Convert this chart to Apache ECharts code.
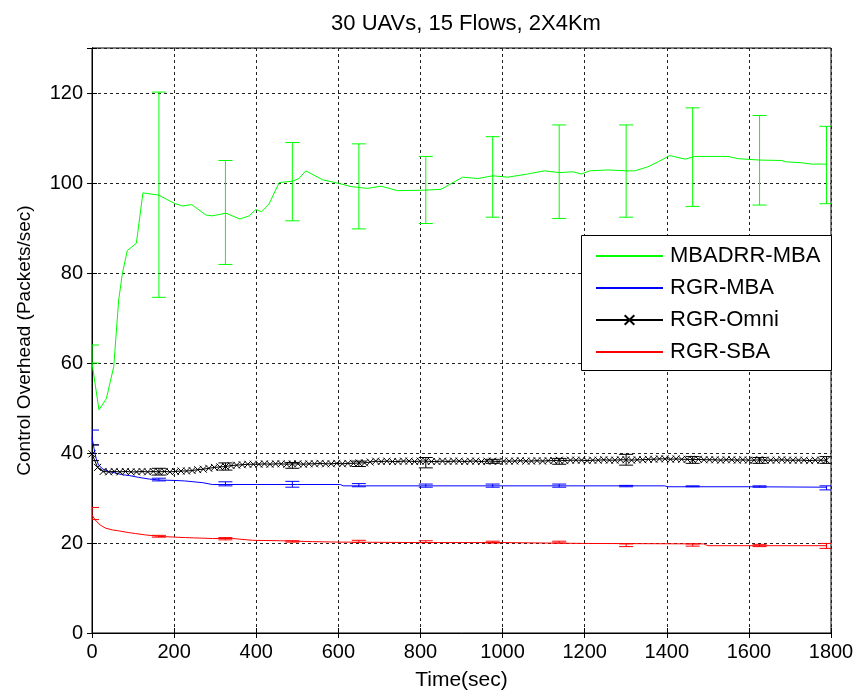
<!DOCTYPE html>
<html>
<head>
<meta charset="utf-8">
<script src="https://cdn.jsdelivr.net/npm/echarts@6/dist/echarts.min.js"></script>
<style>
  html, body { margin: 0; padding: 0; background: #fff; }
  #chart { width: 859px; height: 696px; }
</style>
</head>
<body>
<div id="chart"></div>
<script>
// ---- Series data (time in seconds, overhead in packets/sec) ----
const seriesNames = ['MBADRR-MBA', 'RGR-MBA', 'RGR-Omni', 'RGR-SBA'];

const mbadrrMba = [
  [0, 60], [17, 49.6], [35, 52.1], [53, 59.2], [65, 74], [74, 79.9], [86, 85],
  [108, 86.6], [124, 97.8], [163, 97.3], [200, 95.5], [220, 94.9], [243, 95.2],
  [277, 92.9], [293, 92.7], [326, 93.3], [360, 92], [383, 92.7], [399, 94.1],
  [413, 93.6], [431, 95.3], [456, 100.1], [488, 100.4], [504, 101], [521, 102.7],
  [562, 100.7], [602, 99.9], [631, 99.2], [671, 98.8], [704, 99.3], [744, 98.3],
  [809, 98.4], [850, 98.6], [903, 101.3], [940, 101], [976, 101.6], [1013, 101.3],
  [1061, 102], [1102, 102.7], [1139, 102.3], [1171, 102.5], [1192, 102], [1212, 102.7],
  [1257, 102.9], [1301, 102.7], [1322, 102.7], [1354, 103.6], [1379, 104.7],
  [1407, 106.1], [1445, 105.3], [1468, 105.9], [1549, 105.9], [1574, 105.4],
  [1626, 105.1], [1679, 105], [1691, 104.7], [1728, 104.5], [1753, 104.2], [1789, 104.2]
];

const rgrMba = [
  [0, 43.4], [5, 41], [10, 38.8], [16, 37.3], [27, 36.4], [40, 35.9], [55, 35.6],
  [72, 35.2], [90, 35], [113, 34.6], [140, 34.2], [165, 34.0], [200, 33.9],
  [225, 33.8], [270, 33.4], [293, 33.0], [400, 33.0], [500, 33.0], [605, 33.0],
  [612, 32.7], [800, 32.7], [1000, 32.7], [1200, 32.7], [1395, 32.7], [1402, 32.5],
  [1600, 32.5], [1790, 32.4]
];

// RGR-Omni is logged on a fixed sampling period
const omniSamplePeriod = 13.55;
const rgrOmniValues = [
  39.8, 36.8, 35.9, 35.8, 35.9, 35.8, 35.9, 35.8, 35.8, 35.9, 35.8, 35.9, 35.8, 35.9, 35.8, 35.9,
  36.0, 36.0, 36.1, 36.3, 36.4, 36.6, 36.8, 36.9, 37.0, 37.2, 37.3, 37.4, 37.5, 37.5, 37.5, 37.6,
  37.5, 37.6, 37.6, 37.5, 37.6, 37.6, 37.5, 37.6, 37.6, 37.7, 37.6, 37.6, 37.7, 37.6, 37.7, 37.7,
  37.8, 37.8, 38.0, 38.2, 38.1, 38.2, 38.1, 38.1, 38.2, 38.2, 38.1, 38.2, 38.2, 38.1, 38.1, 38.2,
  38.1, 38.2, 38.2, 38.1, 38.2, 38.2, 38.1, 38.2, 38.2, 38.1, 38.2, 38.2, 38.2, 38.3, 38.2, 38.2,
  38.3, 38.2, 38.3, 38.3, 38.4, 38.3, 38.4, 38.4, 38.4, 38.3, 38.4, 38.4, 38.5, 38.4, 38.4, 38.5,
  38.5, 38.4, 38.5, 38.5, 38.6, 38.6, 38.7, 38.7, 38.6, 38.7, 38.6, 38.6, 38.5, 38.6, 38.5, 38.5,
  38.5, 38.4, 38.5, 38.5, 38.4, 38.5, 38.4, 38.4, 38.5, 38.4, 38.4, 38.4, 38.5, 38.4, 38.4, 38.4,
  38.4, 38.3, 38.4, 38.4, 38.4
];

const rgrSba = [
  [0, 26.2], [8, 25.1], [20, 24], [33, 23.3], [50, 22.9], [65, 22.7], [90, 22.3],
  [106, 22.1], [130, 21.8], [160, 21.5], [179, 21.4], [228, 21.2], [293, 21.0],
  [342, 21.0], [391, 20.6], [460, 20.5], [537, 20.3], [602, 20.2], [800, 20.1],
  [1000, 20.1], [1200, 19.9], [1490, 19.8], [1500, 19.4], [1790, 19.4]
];

// ---- Error bars (confidence ranges) ----
const errTimes = [0, 163, 325, 488, 650, 813, 976, 1138, 1301, 1463, 1626, 1789];
const mbadrrLow  = [60, 74.6, 81.9, 91.6, 89.8, 91, 92.4, 92.1, 92.4, 94.8, 95.1, 95.4];
const mbadrrHigh = [64, 120.2, 105, 109, 108.7, 105.9, 110.3, 112.9, 112.9, 116.7, 115, 112.6];
const rgrMbaLow  = [41.8, 33.8, 32.7, 32.4, 32.5, 32.4, 32.4, 32.4, 32.5, 32.5, 32.4, 31.8];
const rgrMbaHigh = [45.1, 34.4, 33.6, 33.7, 33.2, 33.1, 33.1, 33.1, 32.8, 32.7, 32.7, 32.7];
const rgrOmniLow  = [38.3, 35.1, 36.2, 36.6, 37.0, 36.7, 37.7, 37.5, 37.3, 37.7, 37.7, 37.7];
const rgrOmniHigh = [41.8, 36.6, 37.8, 37.9, 38.2, 39.0, 38.6, 38.8, 39.7, 39.2, 39.0, 39.2];
const rgrSbaLow  = [25.2, 21.3, 20.7, 20.2, 20.1, 20.1, 20.0, 20.0, 19.2, 19.3, 19.2, 18.8];
const rgrSbaHigh = [27.9, 21.7, 21.2, 20.5, 20.6, 20.5, 20.4, 20.4, 19.8, 19.8, 19.7, 19.9];

// ---- Axis setup ----
const xTicks = [0, 200, 400, 600, 800, 1000, 1200, 1400, 1600, 1800];
const yTicks = [0, 20, 40, 60, 80, 100, 120];

const COLORS = { green: '#00ff00', blue: '#0000ff', black: '#000000', red: '#ff0000' };
const FONT = 'Liberation Sans, Arial, sans-serif';
const CROSS = 'path://M0,0 L10,10 M10,0 L0,10';

function errorBars(name, color, lows, highs) {
  return {
    type: 'custom',
    name: name,
    clip: true,
    z: 3,
    data: errTimes.map((t, i) => [t, lows[i], highs[i]]),
    encode: { x: 0, y: [1, 2] },
    renderItem: function (params, api) {
      const x = api.value(0);
      const lo = api.coord([x, api.value(1)]);
      const hi = api.coord([x, api.value(2)]);
      const hw = 7;
      const style = { stroke: color, lineWidth: 1, fill: null };
      return {
        type: 'group',
        children: [
          { type: 'line', shape: { x1: lo[0], y1: lo[1], x2: hi[0], y2: hi[1] }, style: style },
          { type: 'line', shape: { x1: lo[0] - hw, y1: lo[1], x2: lo[0] + hw, y2: lo[1] }, style: style },
          { type: 'line', shape: { x1: hi[0] - hw, y1: hi[1], x2: hi[0] + hw, y2: hi[1] }, style: style }
        ]
      };
    }
  };
}

const chart = echarts.init(document.getElementById('chart'), null, { renderer: 'canvas' });

const gridLine = { show: true, lineStyle: { color: '#222', type: [3, 3], width: 1 } };
const hiddenSymbol = { opacity: 0 };

chart.setOption({
  animation: false,
  backgroundColor: '#ffffff',
  title: {
    text: '30 UAVs, 15 Flows, 2X4Km',
    left: 461,
    textAlign: 'center',
    top: 8,
    textStyle: { fontFamily: FONT, fontSize: 22, fontWeight: 'normal', color: '#000' }
  },
  grid: { left: 92, right: 28, top: 48, bottom: 63, show: true, borderColor: '#000', borderWidth: 1 },
  xAxis: [{
    type: 'value', min: 0, max: 1800, interval: 200,
    name: 'Time(sec)', nameLocation: 'middle', nameGap: 37,
    nameTextStyle: { fontFamily: FONT, fontSize: 21, color: '#000' },
    axisLine: { show: true, lineStyle: { color: '#000' } },
    axisTick: { show: true, inside: true, length: 5, lineStyle: { color: '#000' } },
    axisLabel: { fontFamily: FONT, fontSize: 20, color: '#000', margin: 9,
      formatter: v => (xTicks.indexOf(v) >= 0 ? String(v) : '') },
    splitLine: gridLine
  }, {
    type: 'value', min: 0, max: 1800, interval: 200, position: 'top',
    axisLine: { show: true, lineStyle: { color: '#000' } },
    axisTick: { show: true, inside: true, length: 5, lineStyle: { color: '#000' } },
    axisLabel: { show: false }, splitLine: { show: false }
  }],
  yAxis: [{
    type: 'value', min: 0, max: 130, interval: 20,
    name: 'Control Overhead (Packets/sec)', nameLocation: 'middle', nameGap: 58,
    nameTextStyle: { fontFamily: FONT, fontSize: 19, color: '#000' },
    axisLine: { show: true, lineStyle: { color: '#000' } },
    axisTick: { show: true, inside: true, length: 5, lineStyle: { color: '#000' } },
    axisLabel: { fontFamily: FONT, fontSize: 20, color: '#000', margin: 9,
      formatter: v => (yTicks.indexOf(v) >= 0 ? String(v) : '') },
    splitLine: gridLine
  }, {
    type: 'value', min: 0, max: 130, interval: 20, position: 'right',
    axisLine: { show: true, lineStyle: { color: '#000' } },
    axisTick: { show: true, inside: true, length: 5, lineStyle: { color: '#000' } },
    axisLabel: { show: false }, splitLine: { show: false }
  }],
  legend: {
    data: [
      { name: seriesNames[0], itemStyle: hiddenSymbol },
      { name: seriesNames[1], itemStyle: hiddenSymbol },
      { name: seriesNames[2] },
      { name: seriesNames[3], itemStyle: hiddenSymbol }
    ],
    orient: 'vertical',
    left: 595, top: 245,
    itemWidth: 67, itemHeight: 12, itemGap: 10,
    padding: 0,
    z: 6,
    textStyle: { fontFamily: FONT, fontSize: 22, color: '#000', padding: [0, 0, 0, 2] },
    selectedMode: false
  },
  graphic: [{
    type: 'rect', left: 581, top: 235, z: 5,
    shape: { width: 250, height: 135 },
    style: { fill: '#fff', stroke: '#000', lineWidth: 1 }
  }],
  series: [
    {
      name: seriesNames[0], type: 'line', data: mbadrrMba, symbol: 'none', z: 2,
      lineStyle: { color: COLORS.green, width: 1 }, itemStyle: { color: COLORS.green }
    },
    {
      name: seriesNames[1], type: 'line', data: rgrMba, symbol: 'none', z: 2,
      lineStyle: { color: COLORS.blue, width: 1 }, itemStyle: { color: COLORS.blue }
    },
    {
      name: seriesNames[2], type: 'line',
      data: rgrOmniValues.map((v, i) => [i * omniSamplePeriod, v]),
      symbol: CROSS, symbolSize: 7, showAllSymbol: true, z: 2,
      lineStyle: { color: COLORS.black, width: 1 },
      itemStyle: { color: 'rgba(0,0,0,0)', borderColor: COLORS.black, borderWidth: 1 }
    },
    {
      name: seriesNames[3], type: 'line', data: rgrSba, symbol: 'none', z: 2,
      lineStyle: { color: COLORS.red, width: 1 }, itemStyle: { color: COLORS.red }
    },
    errorBars('MBADRR-MBA range', COLORS.green, mbadrrLow, mbadrrHigh),
    errorBars('RGR-MBA range', COLORS.blue, rgrMbaLow, rgrMbaHigh),
    errorBars('RGR-Omni range', COLORS.black, rgrOmniLow, rgrOmniHigh),
    errorBars('RGR-SBA range', COLORS.red, rgrSbaLow, rgrSbaHigh)
  ]
});
</script>
</body>
</html>
